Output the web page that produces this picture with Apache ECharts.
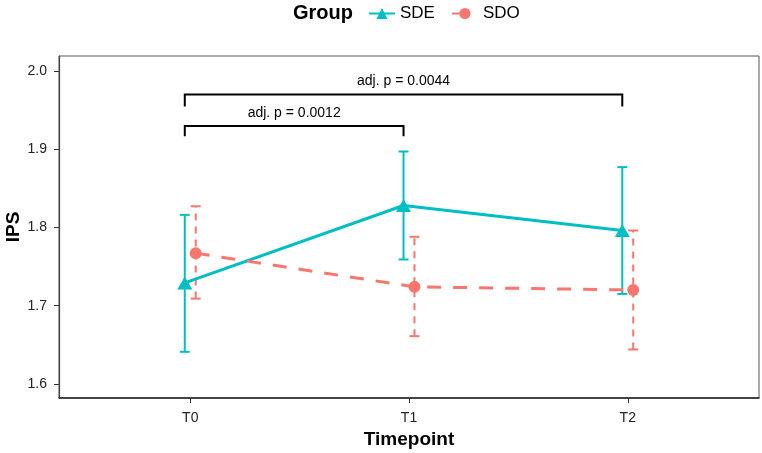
<!DOCTYPE html>
<html>
<head>
<meta charset="utf-8">
<script src="https://cdn.jsdelivr.net/npm/echarts@6/dist/echarts.min.js"></script>
<style>
  html, body { margin: 0; padding: 0; background: #fff; }
  #chart { width: 762px; height: 453px; }
</style>
</head>
<body>
<div id="chart"></div>
<script>
const categories = ["T0", "T1", "T2"]
const sdeMean = [1.729, 1.828, 1.796]
const sdeLower = [1.641, 1.759, 1.715]
const sdeUpper = [1.816, 1.897, 1.877]
const sdoMean = [1.767, 1.724, 1.720]
const sdoLower = [1.709, 1.661, 1.644]
const sdoUpper = [1.827, 1.788, 1.796]
const yTicks = [1.6, 1.7, 1.8, 1.9, 2.0]
const brackets = [
  { from: 0, to: 1, y: 1.9295, tip: 1.9164, label: "adj. p = 0.0012" },
  { from: 0, to: 2, y: 1.9697, tip: 1.9546, label: "adj. p = 0.0044" },
]

const dodge = 0.025
const TEAL = "#00BFC4"
const RED = "#F8766D"
const FONT = "Liberation Sans, Arial, sans-serif"

function errorBars(color, dash) {
  return function (params, api) {
    const x = api.value(0)
    const lo = api.coord([x, api.value(1)])
    const hi = api.coord([x, api.value(2)])
    const half = 5
    const style = { stroke: color, lineWidth: 2, lineDash: dash }
    return {
      type: "group",
      children: [
        { type: "line", shape: { x1: lo[0], y1: lo[1], x2: hi[0], y2: hi[1] }, style },
        { type: "line", shape: { x1: hi[0] - half, y1: hi[1], x2: hi[0] + half, y2: hi[1] }, style: { stroke: color, lineWidth: 2 } },
        { type: "line", shape: { x1: lo[0] - half, y1: lo[1], x2: lo[0] + half, y2: lo[1] }, style: { stroke: color, lineWidth: 2 } },
      ],
    }
  }
}

const chart = echarts.init(document.getElementById("chart"), null, { renderer: "canvas" })

chart.setOption({
  backgroundColor: "#fff",
  animation: false,
  textStyle: { fontFamily: FONT },
  title: {
    text: "Group",
    left: 293,
    top: 3,
    padding: 0,
    textStyle: { fontFamily: FONT, fontSize: 20, fontWeight: "bold", color: "#000" },
  },
  legend: {
    data: ["SDE", "SDO"],
    left: 368,
    top: 5,
    padding: 0,
    itemWidth: 26,
    itemHeight: 14,
    itemGap: 16,
    textStyle: { fontFamily: FONT, fontSize: 17, color: "#000" },
  },
  grid: {
    left: 59,
    right: 3,
    top: 56,
    bottom: 55,
    containLabel: false,
    outerBoundsMode: "none",
    show: true,
    borderColor: "#555",
    borderWidth: 1,
  },
  xAxis: {
    type: "value",
    min: -0.6,
    max: 2.6,
    name: "Timepoint",
    nameLocation: "middle",
    nameGap: 32,
    nameMoveOverlap: false,
    nameTextStyle: { fontFamily: FONT, fontSize: 19, fontWeight: "bold", color: "#000" },
    splitLine: { show: false },
    axisLine: { onZero: false, lineStyle: { color: "#222", width: 1.5 } },
    axisTick: { show: true, length: 5, customValues: [0, 1, 2], lineStyle: { color: "#333" } },
    axisLabel: {
      customValues: [0, 1, 2],
      margin: 13,
      fontSize: 14,
      color: "#222",
      formatter: (v) => categories[Math.round(v)],
    },
  },
  yAxis: {
    type: "value",
    min: 1.582,
    max: 2.019,
    name: "IPS",
    nameLocation: "middle",
    nameGap: 36,
    nameMoveOverlap: false,
    nameTextStyle: { fontFamily: FONT, fontSize: 19, fontWeight: "bold", color: "#000" },
    splitLine: { show: false },
    axisLine: { show: true, onZero: false, lineStyle: { color: "#444", width: 1.2 } },
    axisTick: { show: true, length: 5, customValues: yTicks, lineStyle: { color: "#333" } },
    axisLabel: {
      customValues: yTicks,
      margin: 12,
      fontSize: 14,
      color: "#222",
      formatter: (v) => v.toFixed(1),
    },
  },
  series: [
    {
      type: "custom",
      renderItem: errorBars(TEAL, null),
      data: sdeLower.map((l, i) => [i - dodge, l, sdeUpper[i]]),
      encode: { x: 0, y: [1, 2] },
      z: 3,
    },
    {
      type: "custom",
      renderItem: errorBars(RED, [7, 6]),
      data: sdoLower.map((l, i) => [i + dodge, l, sdoUpper[i]]),
      encode: { x: 0, y: [1, 2] },
      z: 4,
    },
    {
      name: "SDE",
      type: "line",
      data: sdeMean.map((v, i) => [i - dodge, v]),
      symbol: "triangle",
      symbolSize: [15, 13],
      itemStyle: { color: TEAL },
      lineStyle: { color: TEAL, width: 3 },
      z: 5,
    },
    {
      name: "SDO",
      type: "line",
      data: sdoMean.map((v, i) => [i + dodge, v]),
      symbol: "circle",
      symbolSize: 12,
      itemStyle: { color: RED },
      lineStyle: { color: RED, width: 3, type: [14, 12] },
      z: 6,
    },
    {
      type: "custom",
      data: brackets.map((b) => [b.from - dodge, b.to - dodge, b.y, b.tip]),
      encode: { x: [0, 1], y: [2, 3] },
      renderItem: function (params, api) {
        const b = brackets[params.dataIndex]
        const p1 = api.coord([api.value(0), api.value(3)])
        const p2 = api.coord([api.value(0), api.value(2)])
        const p3 = api.coord([api.value(1), api.value(2)])
        const p4 = api.coord([api.value(1), api.value(3)])
        return {
          type: "group",
          children: [
            {
              type: "polyline",
              shape: { points: [p1, p2, p3, p4] },
              style: { stroke: "#000", lineWidth: 2, fill: "none" },
            },
            {
              type: "text",
              x: (p2[0] + p3[0]) / 2,
              y: p2[1] - 6,
              style: {
                text: b.label,
                fontFamily: FONT,
                fontSize: 14,
                fill: "#000",
                align: "center",
                verticalAlign: "bottom",
              },
            },
          ],
        }
      },
      z: 7,
    },
  ],
})
</script>
</body>
</html>
